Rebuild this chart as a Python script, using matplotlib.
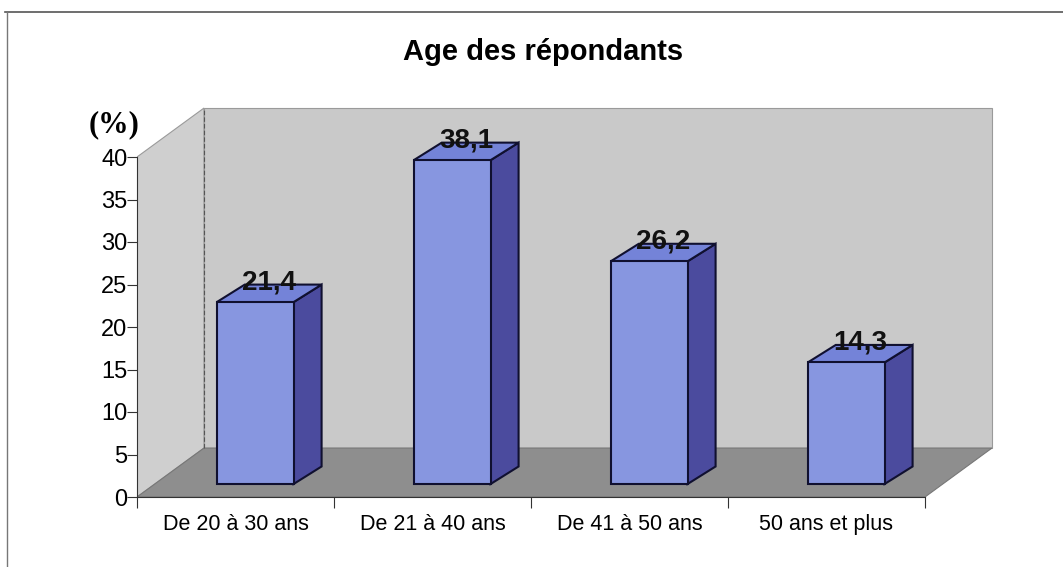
import numpy as np
import matplotlib.pyplot as plt
from matplotlib.patches import Polygon

categories = ['De 20 à 30 ans', 'De 21 à 40 ans', 'De 41 à 50 ans', '50 ans et plus']
values = [21.4, 38.1, 26.2, 14.3]
labels = ['21,4', '38,1', '26,2', '14,3']
yticks = [0, 5, 10, 15, 20, 25, 30, 35, 40]

# pseudo 3d geometry (in data units: x = categories, y = percent)
wdx, wdy = 0.34, 5.76      # depth of the back wall
fdx, fdy = 0.10, 1.53      # where the bar front sits in the depth
bdx, bdy = 0.142, 2.06     # depth of the bar itself
bw = 0.39
ymax = 40

fig = plt.figure(figsize=(10.63, 5.67), dpi=100)
ax = fig.add_axes([137/1063, 70/567, 4.4*197/1063, 46*8.5/567])
ax.set_xlim(0, 4.4)
ax.set_ylim(0, 46)
ax.set_facecolor('none')

n = len(values)
wall = '#c9c9c9'
floor = '#8e8e8e'
# left wall, back wall, floor
ax.add_patch(Polygon([(0, 0), (wdx, wdy), (wdx, ymax + wdy), (0, ymax)],
                     closed=True, fc='#cfcfcf', ec='#9a9a9a', lw=0.8, zorder=0))
ax.add_patch(Polygon([(wdx, wdy), (n + wdx, wdy), (n + wdx, ymax + wdy), (wdx, ymax + wdy)],
                     closed=True, fc=wall, ec='#9a9a9a', lw=0.8, zorder=0))
ax.add_patch(Polygon([(0, 0), (n, 0), (n + wdx, wdy), (wdx, wdy)],
                     closed=True, fc=floor, ec='#777777', lw=0.8, zorder=1))
ax.plot([wdx, wdx], [wdy, ymax + wdy], color='#555555', lw=0.8, ls=(0, (4, 2)), zorder=1)

x = np.arange(n) + 0.5 + fdx
ax.bar(x, values, width=bw, bottom=fdy, color='#8796e0', edgecolor='#101030',
       linewidth=1.5, zorder=3)
for xi, v, lab in zip(x, values, labels):
    r = xi + bw/2
    l = xi - bw/2
    top = v + fdy
    side = [(r, fdy), (r + bdx, fdy + bdy), (r + bdx, top + bdy), (r, top)]
    ax.add_patch(Polygon(side, closed=True, fc='#4b4b9e', ec='#101030', lw=1.5, zorder=2))
    topf = [(l, top), (l + bdx, top + bdy), (r + bdx, top + bdy), (r, top)]
    ax.add_patch(Polygon(topf, closed=True, fc='#7483d8', ec='#101030', lw=1.5, zorder=2))
    ax.text(xi + bdx/2, top + 2.3, lab, ha='center', va='center', fontsize=20,
            fontweight='bold', family='Liberation Sans', color='#111111', zorder=5)

for s in ['top', 'right']:
    ax.spines[s].set_visible(False)
ax.spines['left'].set_bounds(0, ymax)
ax.spines['bottom'].set_bounds(0, n)
ax.spines['left'].set_color('#333333')
ax.spines['bottom'].set_color('#333333')
ax.spines['left'].set_zorder(4)
ax.spines['bottom'].set_zorder(4)

ax.set_yticks(yticks)
ax.set_yticklabels([str(t) for t in yticks], fontsize=17, family='Liberation Sans')
ax.tick_params(axis='y', direction='out', length=7, pad=0, colors='#333333', labelcolor='black')
ax.set_xticks(np.arange(n + 1))
ax.set_xticklabels([])
ax.set_xticks(np.arange(n) + 0.5, minor=True)
ax.set_xticklabels(categories, minor=True, fontsize=15.5, family='Liberation Sans')
ax.tick_params(axis='x', which='major', direction='out', length=8, colors='#333333')
ax.tick_params(axis='x', which='minor', length=0, pad=12)

fig.text(543/1063, 1 - 52/567, 'Age des répondants', ha='center', va='center',
         fontsize=21, fontweight='bold', family='Liberation Sans')
fig.text(114/1063, 1 - 125/567, '(%)', ha='center', va='center',
         fontsize=22, fontweight='bold', family='Liberation Serif')

# outer frame lines
fig.add_artist(plt.Line2D([5/1063, 1], [1 - 12/567, 1 - 12/567], color='#555555', lw=1.2))
fig.add_artist(plt.Line2D([7/1063, 7/1063], [0, 1 - 12/567], color='#777777', lw=1))

fig.savefig('out.png', dpi=100)
